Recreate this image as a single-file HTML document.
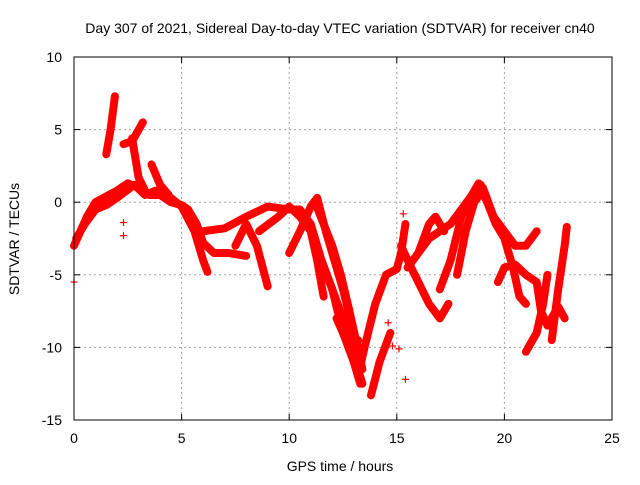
<!DOCTYPE html>
<html><head><meta charset="utf-8"><style>
body{margin:0;background:#fff;}
svg text{font-family:"Liberation Sans",sans-serif;font-size:14px;fill:#000;}
</style></head><body>
<svg id="chart" width="640" height="480" xmlns="http://www.w3.org/2000/svg">
<rect width="640" height="480" fill="#fff"/>
<g id="grid"></g>
<g id="series"></g>
<rect x="74" y="57" width="538" height="363" fill="none" stroke="#000" stroke-width="1"/>
<g id="ticks"></g>
<text x="340" y="33" text-anchor="middle">Day 307 of 2021, Sidereal Day-to-day VTEC variation (SDTVAR) for receiver cn40</text>
<text x="340" y="471" text-anchor="middle">GPS time / hours</text>
<text transform="translate(19,239) rotate(-90)" text-anchor="middle">SDTVAR / TECUs</text>
</svg>
<script>
const xTicks=[0,5,10,15,20,25];
const yTicks=[10,5,0,-5,-10,-15];
const arcA=[[0,-3],[0.3,-2],[0.6,-1],[1,0],[1.5,0.4],[2,0.8],[2.5,1.3],[3,1],[3.5,0.5],[4,0.5],[4.5,0],[5,-0.2],[5.3,-0.5],[5.7,-1.5],[6,-2.8],[6.5,-3.5],[7.2,-3.5],[8,-3.7]];
const arcB=[[0.1,-2.5],[0.5,-1.5],[1,-0.5],[1.5,-0.2],[2,0.3],[2.8,1.2],[3.3,0.5],[3.8,0.8],[4.5,0.3],[5,-0.3],[5.6,-2],[6,-4],[6.2,-4.8]];
const arcC=[[1.5,3.3],[1.7,5],[1.9,7.3]];
const arcD=[[2.3,4],[2.7,4.2],[3.2,5.5]];
const arcE=[[2.7,4.4],[3.0,1.7],[3.3,0.8]];
const arcF=[[3.6,2.6],[4.0,1.2],[4.4,0.5]];
const arcG=[[6,-2],[7,-1.8],[8,-1],[9,-0.3],[10,-0.5],[10.5,-0.5],[11,-1.5],[11.5,-4],[12,-6],[12.5,-9],[13,-11],[13.3,-12.5]];
const arcH=[[7.5,-3],[8,-1.5],[8.5,-3],[9,-5.8]];
const arcI=[[8.6,-2],[9.5,-1],[10,-0.3],[10.5,-1],[11,-2],[11.3,-4],[11.6,-6.5]];
const arcJ=[[10,-3.5],[10.5,-2],[11,-0.3],[11.3,0.3],[11.7,-2],[12,-3.5],[12.5,-6],[13,-9],[13.3,-10.5]];
const arcJ2=[[11.2,0],[11.6,-1.5],[12,-3],[12.4,-5],[12.8,-7.5],[13.1,-9.5],[13.4,-11.5]];
const arcK=[[11.5,-4],[12.5,-8],[13,-10.5],[13.4,-12.5]];
const arcL=[[13.2,-12],[13.5,-10],[14,-7],[14.5,-5],[15,-4.6],[15.2,-3.5],[15.4,-1.5]];
const arcM=[[13.8,-13.3],[14.2,-11],[14.7,-9]];
const arcN=[[12.2,-8],[12.8,-10],[13.2,-9.5]];
const arcO=[[15.5,-4.5],[16,-3.5],[16.5,-2.5],[17,-2],[17.5,-1.5],[18,-0.5],[18.5,0.5],[19,1],[19.5,-1],[20,-2],[20.5,-3],[21,-3],[21.5,-2]];
const arcP=[[15.2,-3],[15.5,-4],[16,-5.5],[16.5,-7],[17,-8],[17.4,-7]];
const arcQ=[[16,-3.5],[16.5,-1.5],[16.8,-1],[17.2,-2]];
const arcR=[[17,-6],[17.5,-4],[18,-1],[18.5,0.5],[18.9,1.2]];
const arcS=[[17.8,-5],[18.2,-2],[18.6,0],[19,0.8]];
const arcT=[[18.3,0],[18.8,1.3],[19.2,0],[19.6,-1.5],[20,-2.5],[20.2,-3.5],[20.4,-4.5],[20.7,-6.5],[21,-7]];
const arcU=[[19.7,-5.5],[20,-4.5],[20.5,-4.3],[21,-5],[21.5,-5.5],[21.7,-7.5],[22,-8.5],[22.5,-7.2],[22.8,-8]];
const arcV=[[21,-10.3],[21.5,-9],[21.8,-7],[22,-5]];
const arcW=[[22.2,-9.5],[22.5,-6],[22.8,-3],[22.9,-1.7]];
const strays=[[0,-5.5],[2.3,-1.4],[2.3,-2.3],[15.3,-0.8],[15.4,-12.2],[14.8,-9.9],[15.1,-10.1],[14.6,-8.3]];
const arcs=[arcA,arcB,arcC,arcD,arcE,arcF,arcG,arcH,arcI,arcJ,arcJ2,arcK,arcL,arcM,arcN,arcO,arcP,arcQ,arcR,arcS,arcT,arcU,arcV,arcW];

const X0=74,X1=612,Y0=420,Y1=57;
function sx(v){return X0+(v-0)/(25-0)*(X1-X0);}
function sy(v){return Y0-(v+15)/(10+15)*(Y0-Y1);}
const NS="http://www.w3.org/2000/svg";
const grid=document.getElementById('grid'),ticks=document.getElementById('ticks'),ser=document.getElementById('series');
function mk(tag,attrs,parent){const e=document.createElementNS(NS,tag);for(const k in attrs)e.setAttribute(k,attrs[k]);parent.appendChild(e);return e;}
xTicks.forEach(t=>{const x=sx(t);
 if(t>0&&t<25){const g=mk('line',{x1:x,x2:x,y1:Y1,y2:Y0,stroke:'#a0a0a0','stroke-dasharray':'2,3'},grid);
 
 }
 const a=mk('line',{x1:x,x2:x,y1:Y0,y2:Y0-6,stroke:'#000'},ticks);
 
 
 const b=mk('line',{x1:x,x2:x,y1:Y1,y2:Y1+6,stroke:'#000'},ticks);
 
 
 const l=mk('text',{x:x,y:443,'text-anchor':'middle'},ticks);l.textContent=t;
 
 });
yTicks.forEach(t=>{const y=sy(t);
 if(t>-15&&t<10){const g=mk('line',{x1:X0,x2:X1,y1:y,y2:y,stroke:'#a0a0a0','stroke-dasharray':'2,3'},grid);
 
 }
 const a=mk('line',{x1:X0,x2:X0+6,y1:y,y2:y,stroke:'#000'},ticks);
 
 
 const b=mk('line',{x1:X1,x2:X1-6,y1:y,y2:y,stroke:'#000'},ticks);
 
 
 const l=mk('text',{x:X0-12,y:y+5,'text-anchor':'end'},ticks);l.textContent=t;
 
 });
function plus(x,y,name){const p=mk('path',{d:`M${x-3.5},${y}h7M${x},${y-3.5}v7`,stroke:'#f00','stroke-width':1.2},ser);
 
 }
arcs.forEach((arc,i)=>{
 const pl=mk('polyline',{points:arc.map(p=>sx(p[0])+','+sy(p[1])).join(' '),fill:'none',stroke:'#f00','stroke-width':8,'stroke-linejoin':'round','stroke-linecap':'round'},ser);
 
 
 arc.forEach(p=>plus(sx(p[0]),sy(p[1]),'data-point'));
});
strays.forEach(p=>plus(sx(p[0]),sy(p[1]),'stray-point'));
</script>
</body></html>
